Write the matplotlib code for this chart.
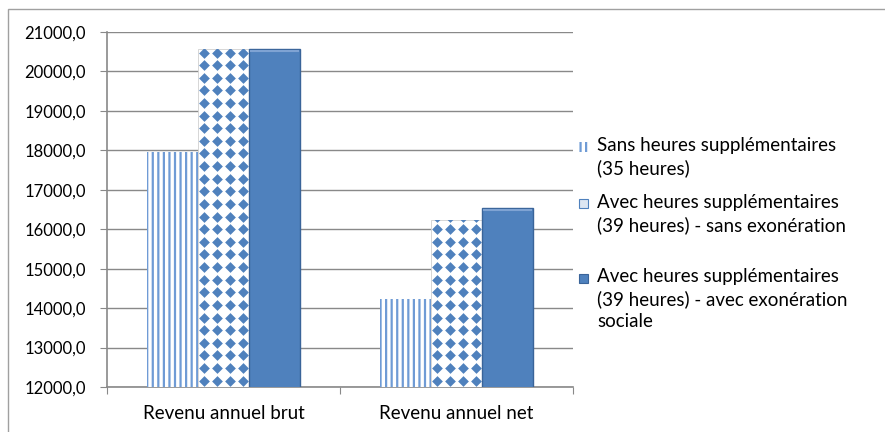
import numpy as np
import matplotlib
matplotlib.use('Agg')
import matplotlib.pyplot as plt
from matplotlib.patches import Rectangle

categories = ['Revenu annuel brut', 'Revenu annuel net']
series_labels = ['Sans heures supplémentaires\n(35 heures)',
                 'Avec heures supplémentaires\n(39 heures) - sans exonération',
                 'Avec heures supplémentaires\n(39 heures) - avec exonération\nsociale']
sans_hs = [17960, 14230]
avec_hs_sans_exo = [20570, 16240]
avec_hs_avec_exo = [20570, 16540]
yticks = [12000, 13000, 14000, 15000, 16000, 17000, 18000, 19000, 20000, 21000]

blue = '#4F81BD'
stripe_blue = '#6F9BD5'
grey = '#898989'

plt.rcParams['font.family'] = ['Lato', 'DejaVu Sans']
plt.rcParams['font.size'] = 13
plt.rcParams['hatch.linewidth'] = 1.6

fig = plt.figure(figsize=(8.85, 4.32), dpi=100)
ax = fig.add_axes([107/885, 45/432, 466/885, 355/432])

x = np.arange(len(categories))
w = 0.22

b1 = ax.bar(x - w, sans_hs, w, facecolor='white', edgecolor=stripe_blue,
            hatch='|||', linewidth=0, zorder=3)
b2 = ax.bar(x, avec_hs_sans_exo, w, facecolor='white', edgecolor='#D0D0D0',
            linewidth=0.6, zorder=3)
b3 = ax.bar(x + w, avec_hs_avec_exo, w, facecolor=blue, edgecolor='#3A6499',
            linewidth=1.0, zorder=3)
# light rim on top of the solid bars (bevel look)
for rect in b3:
    ax.plot([rect.get_x() + 0.01, rect.get_x() + rect.get_width() - 0.01],
            [rect.get_height() - 60] * 2, color='#7FA3D3', lw=1.5, zorder=4)

ax.set_xlim(-0.5, 1.5)
ax.set_ylim(12000, 21000)

# diamond pattern inside the middle bars
ystep = 320
for rect in b2:
    x0, bw, h = rect.get_x(), rect.get_width(), rect.get_height()
    cols = x0 + (np.arange(4) + 0.5) * bw / 4
    rows = np.arange(12000 + ystep / 2, h + ystep, ystep)
    X, Y = np.meshgrid(cols, rows)
    sc = ax.scatter(X.ravel(), Y.ravel(), marker='D', s=30, color=blue,
                    linewidths=0, zorder=4)
    sc.set_clip_path(rect)

ax.set_yticks(yticks)
ax.set_yticklabels([f'{v:.1f}'.replace('.', ',') for v in yticks], fontsize=12)
ax.yaxis.grid(True, color=grey, linewidth=1)
ax.set_axisbelow(True)

ax.set_xticks([-0.5, 0.5, 1.5])
ax.set_xticklabels(['', '', ''])
ax.set_xticks(x, minor=True)
ax.set_xticklabels(categories, minor=True, fontsize=13.5)
ax.tick_params(axis='x', which='major', length=5, color=grey, direction='out')
ax.tick_params(axis='x', which='minor', length=0, pad=13)
ax.tick_params(axis='y', length=5, color=grey, direction='out', pad=10)

for side in ['top', 'right']:
    ax.spines[side].set_visible(False)
for side in ['left', 'bottom']:
    ax.spines[side].set_color(grey)
    ax.spines[side].set_linewidth(1.2)

# legend drawn by hand so the swatch sits on the first line of each entry
swatches = [dict(facecolor='white', edgecolor=stripe_blue, hatch='|||', linewidth=0),
            dict(facecolor='#DCE6F2', edgecolor=blue, linewidth=0.8),
            dict(facecolor=blue, edgecolor='#3A6499', linewidth=0.8)]
entry_tops = [147, 204, 278]
for label, top, style in zip(series_labels, entry_tops, swatches):
    fy = 1 - top / 432
    fig.add_artist(Rectangle((579/885, fy - 4.5/432), 9/885, 9/432,
                             transform=fig.transFigure, **style))
    fig.text(597/885, fy + 10/432, label, va='top', ha='left',
             linespacing=1.36, fontsize=13.5)

# outer chart frame
fig.add_artist(Rectangle((8/885, -0.2), 1.2, 1.2 - 9/432,
                         transform=fig.transFigure, fill=False,
                         edgecolor='#A0A0A0', linewidth=1))

fig.savefig('out.png', dpi=100)
